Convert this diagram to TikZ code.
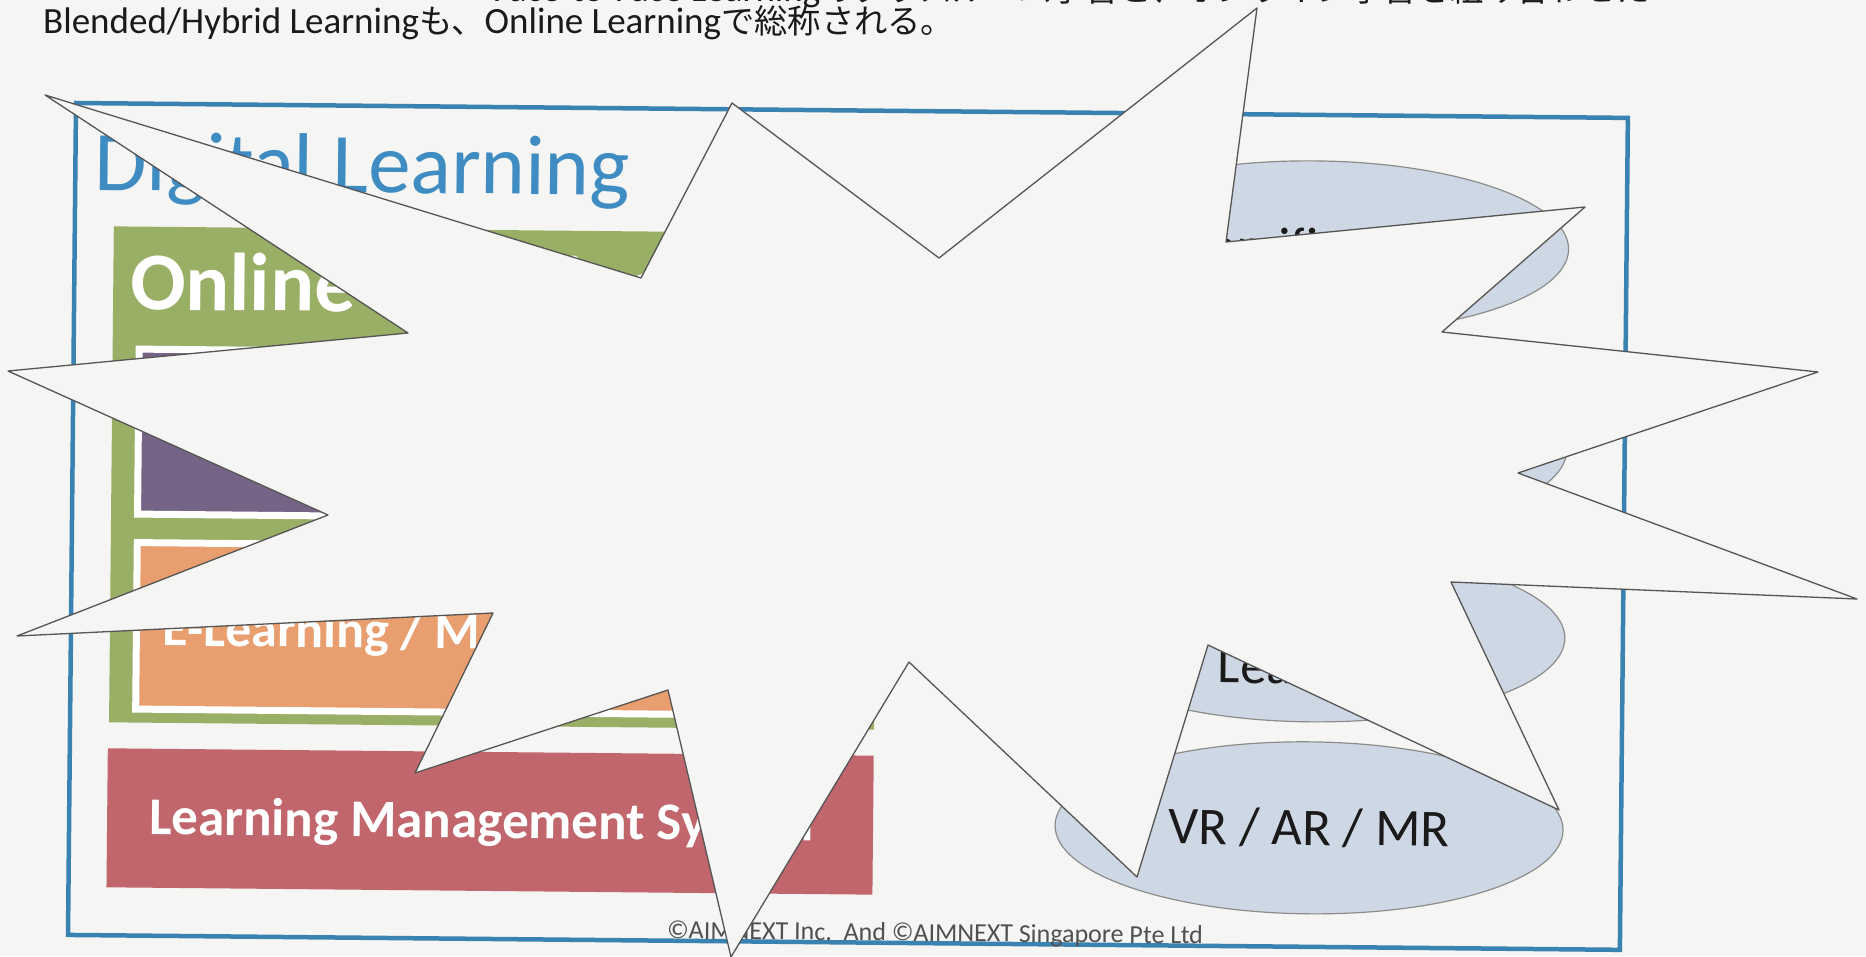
\documentclass[tikz,border=0pt]{standalone}
\usepackage{fontspec}
\setmainfont{Carlito}
\newfontfamily\jpfont[Scale=0.9]{Noto Sans CJK JP}
\newcommand{\jtxt}[1]{{\jpfont #1}}
\usetikzlibrary{shapes.geometric}

\definecolor{paper}{HTML}{F5F5F3}
\definecolor{frameblue}{HTML}{3A82B2}
\definecolor{titleblue}{HTML}{3E8CC2}
\definecolor{dlgreen}{HTML}{9AAF66}
\definecolor{dlpurple}{HTML}{766487}
\definecolor{dlorange}{HTML}{E89E6E}
\definecolor{dlred}{HTML}{C0666C}
\definecolor{ellfill}{HTML}{CED8E4}
\definecolor{ellline}{HTML}{8C8C8C}
\definecolor{inkdark}{HTML}{1A1A1A}
\definecolor{footgray}{HTML}{505050}
\definecolor{burstline}{HTML}{555555}

\begin{document}
\begin{tikzpicture}[x=1pt,y=-1pt,
  every node/.style={inner sep=0pt},
  bubble/.style={ellipse, draw=ellline, line width=1.2pt, fill=ellfill,
    minimum width=508pt, minimum height=172pt, text=inkdark,
    font=\fontsize{53}{60}\selectfont},
  tile/.style={draw=white, line width=7pt},
  burst/.style={draw=burstline, fill=paper, line width=1.3pt, line join=round}]

\useasboundingbox[fill=paper] (0,0) rectangle (1866,956);

% texte au-dessus du cadre
\node[anchor=base east, text=inkdark] (intro) at (1650,1) {\fontsize{37}{44}\selectfont Face-to-Face Learning\jtxt{のクラスルーム学習と、オンライン学習を組み合わせた}};
\node[anchor=base west, text=inkdark] (lead) at (43,33) {\fontsize{37}{44}\selectfont Blended/Hybrid Learning\jtxt{も、}Online Learning\jtxt{で総称される。}};

\begin{scope}[rotate around={-0.55:(76,103)}, transform shape]
 \draw[frameblue, line width=4.5pt] (76,103) rectangle (1628,935); % le cadre
 \node[anchor=base west, text=titleblue] (title) at (95,190) {\fontsize{85}{92}\selectfont Digital Learning};

 \fill[dlgreen] (115,226) rectangle (880,722);
 \node[anchor=base west, text=white] (online) at (132,309) {\fontsize{82}{90}\selectfont\bfseries Online Learning};
 \filldraw[tile, fill=dlpurple] (141.5,348.5) rectangle (855,513.5);
 \filldraw[tile, fill=dlorange] (141.5,542) rectangle (855,708.5);
 \node[anchor=base west, text=white] (elearn) at (168,645) {\fontsize{52}{60}\selectfont\bfseries E-Learning / M};

 \fill[dlred] (114,748) rectangle (880,887);
 \node[anchor=base west, text=white] (lms) at (156,834) {\fontsize{53}{60}\selectfont\bfseries Learning Management System};

 \node[bubble] (gamif) at (1316,235) {\raisebox{-6pt}{Gamification}};
 \node[bubble] (bubbleb) at (1316,436) {};
 \node[bubble] (bubblec) at (1316,624) {};
 \node[anchor=base, text=inkdark] (learn) at (1316,672) {\fontsize{53}{60}\selectfont Learning};
 \node[bubble] (vrarmr) at (1316,816) {VR / AR / MR};

 \node[anchor=base, text=footgray] (copy) at (943,933) {\fontsize{26}{30}\selectfont ©AIMNEXT Inc.\ \ And ©AIMNEXT Singapore Pte Ltd};
\end{scope}

% l'explosion par-dessus
\draw[burst] (45,95) -- (641,278) -- (732,103) -- (939,258) -- (1257,8) -- (1226,242)
  -- (1585,207) -- (1442,332) -- (1818,372) -- (1518,473) -- (1857,599) -- (1451,582)
  -- (1559,810) -- (1208,645) -- (1137,877) -- (909,662) -- (731,957) -- (668,690)
  -- (415,773) -- (493,613) -- (17,636) -- (328,515) -- (8,371) -- (408,333) -- cycle;

\end{tikzpicture}
\end{document}
